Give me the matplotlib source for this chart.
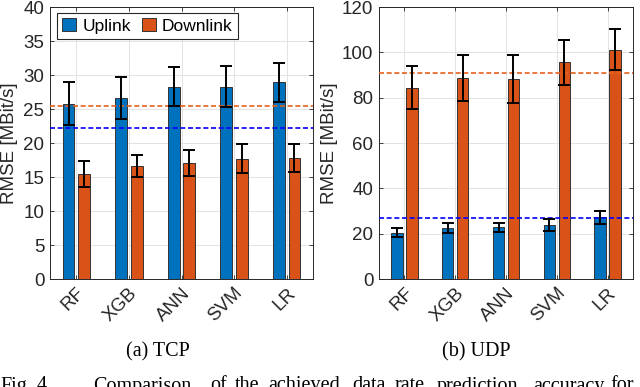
import numpy as np
import matplotlib
matplotlib.use("Agg")
import matplotlib.pyplot as plt
from matplotlib.transforms import ScaledTranslation

models = ["RF", "XGB", "ANN", "SVM", "LR"]

tcp_up = [25.8, 26.6, 28.3, 28.3, 28.9]
tcp_up_err = [3.1, 3.05, 2.85, 3.05, 2.8]
tcp_down = [15.5, 16.6, 17.0, 17.7, 17.8]
tcp_down_err = [1.9, 1.65, 1.9, 2.15, 2.1]
tcp_up_ref = 22.2
tcp_down_ref = 25.4

udp_up = [20.5, 22.5, 22.9, 23.7, 27.2]
udp_up_err = [1.95, 2.4, 1.95, 2.6, 3.0]
udp_down = [84.4, 88.8, 88.4, 95.6, 101.2]
udp_down_err = [9.6, 10.2, 10.6, 9.85, 9.2]
udp_up_ref = 27.0
udp_down_ref = 90.9

BLUE = "#0072BD"
ORANGE = "#D95319"
TXT = "#262626"
FS = 13.5

plt.rcParams["font.family"] = ["Liberation Sans", "DejaVu Sans"]
plt.rcParams["font.size"] = FS

fig = plt.figure(figsize=(6.4, 3.87), dpi=100, facecolor="#FFFFFF")
ax1 = fig.add_axes([50/640, 108/387, 263/640, 272/387])
ax2 = fig.add_axes([379/640, 108/387, 254/640, 272/387])


def draw(ax, up, up_err, down, down_err, up_ref, down_ref, ymax, ystep, labx):
    x = np.arange(1, len(models) + 1)
    w = 0.225
    off = 0.147
    ax.set_axisbelow(True)
    ax.grid(True, color="#e3e3e3", linewidth=0.7)
    ax.bar(x - off, up, w, color=BLUE, edgecolor="#333333", linewidth=0.7,
           label="Uplink", zorder=2)
    ax.bar(x + off, down, w, color=ORANGE, edgecolor="#333333", linewidth=0.7,
           label="Downlink", zorder=2)
    ax.axhline(up_ref, color="#0000FF", linestyle=(0, (3, 1.6)), linewidth=1.2, zorder=3)
    ax.axhline(down_ref, color="#E8601C", linestyle=(0, (3, 1.6)), linewidth=1.2, zorder=3)
    ax.errorbar(x - off, up, yerr=up_err, fmt="none", ecolor="black",
                elinewidth=1.4, capsize=4.5, capthick=1.4, zorder=4)
    ax.errorbar(x + off, down, yerr=down_err, fmt="none", ecolor="black",
                elinewidth=1.4, capsize=4.5, capthick=1.4, zorder=4)
    ax.set_xlim(0.5, len(models) + 0.5)
    ax.set_ylim(0, ymax)
    ax.set_yticks(np.arange(0, ymax + 1, ystep))
    ax.set_xticks(x)
    ax.set_xticklabels(models, rotation=45, ha="right", va="top",
                       rotation_mode="anchor")
    for lab in ax.get_xticklabels():
        lab.set_transform(lab.get_transform() +
                          ScaledTranslation(1.5/72, -7/72, fig.dpi_scale_trans))
    ax.tick_params(direction="in", length=3, width=0.6, top=True, right=True,
                   colors=TXT, labelsize=FS, pad=4)
    for s in ax.spines.values():
        s.set_color(TXT)
        s.set_linewidth(0.7)
    ax.set_ylabel("RMSE [MBit/s]", color=TXT, fontsize=FS)
    ax.yaxis.set_label_coords(labx, 0.5)


draw(ax1, tcp_up, tcp_up_err, tcp_down, tcp_down_err, tcp_up_ref, tcp_down_ref,
     40, 5, -0.12)
draw(ax2, udp_up, udp_up_err, udp_down, udp_down_err, udp_up_ref, udp_down_ref,
     120, 20, -0.163)

leg = ax1.legend(loc="upper left", bbox_to_anchor=(0.027, 0.978), ncol=2,
                 borderaxespad=0, fancybox=False, edgecolor=TXT, framealpha=1,
                 handlelength=0.8, handleheight=0.8, handletextpad=0.35,
                 columnspacing=0.65, borderpad=0.3, fontsize=12.5)
leg.get_frame().set_linewidth(0.8)

serif = ["Liberation Serif", "DejaVu Serif"]
fig.text(157.5/640, (387-356)/387, "(a) TCP", ha="center", va="baseline",
         family=serif, fontsize=14.5)
fig.text(476.5/640, (387-356)/387, "(b) UDP", ha="center", va="baseline",
         family=serif, fontsize=14.5)

caption_words = ["Fig.", "4.", "Comparison", "of", "the", "achieved", "data",
                 "rate", "prediction", "accuracy", "for"]
caption_x = [0, 37, 93, 210, 235, 268, 352, 395, 437, 533, 610]
for wd, px in zip(caption_words, caption_x):
    fig.text(px/640, (387-390.5)/387, wd, ha="left", va="baseline",
             family=serif, fontsize=14.5)

fig.savefig("out.png", dpi=100)
